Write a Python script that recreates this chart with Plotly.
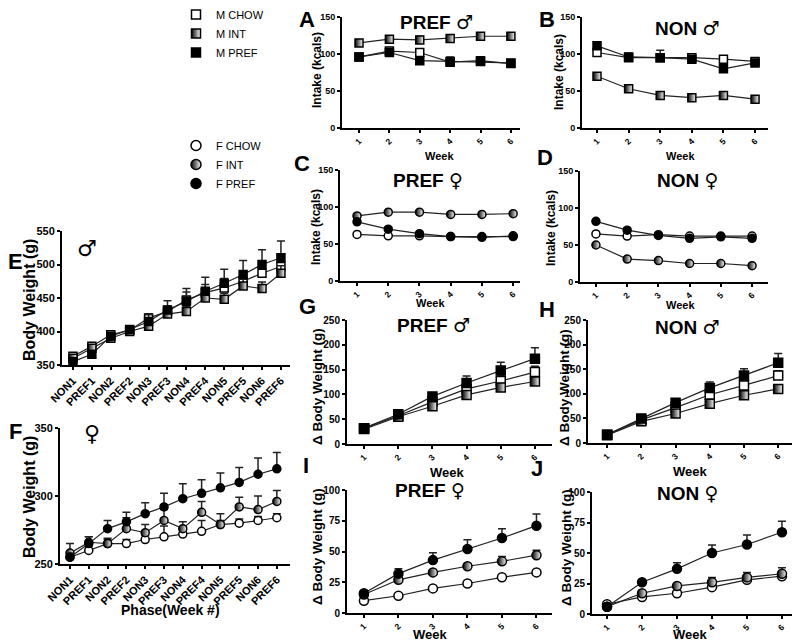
import plotly.graph_objects as go

# the page body adds an 8px margin, so the figure is placed from there
OFF = 8
W, H = 800 - OFF, 642 - OFF
FONT = 'Liberation Sans, Arial, DejaVu Sans'
SYM = '<span style="font-family:DejaVu Sans">{}\ufe0e</span>'

weeks = [1, 2, 3, 4, 5, 6]
phases = ['NON1', 'PREF1', 'NON2', 'PREF2', 'NON3', 'PREF3',
          'NON4', 'PREF4', 'NON5', 'PREF5', 'NON6', 'PREF6']

# A: intake, PREF weeks, males (kcals)
a_chow = [96, 104, 102, 89, 91, 87]
a_int = [115, 120, 119, 121, 124, 124]
a_pref = [96, 102, 91, 90, 90, 88]
a_chow_err = [2, 3, 5, 3, 2, 2]
a_int_err = [3, 3, 5, 3, 2, 2]
a_pref_err = [2, 3, 3, 6, 2, 2]

# B: intake, NON weeks, males
b_chow = [102, 95, 95, 95, 93, 90]
b_int = [70, 53, 44, 41, 44, 39]
b_pref = [111, 96, 95, 93, 80, 88]
b_chow_err = [3, 6, 10, 5, 3, 3]
b_int_err = [3, 2, 2, 2, 2, 2]
b_pref_err = [3, 3, 3, 3, 3, 3]

# C: intake, PREF weeks, females
c_chow = [63, 61, 61, 60, 59, 61]
c_int = [88, 93, 93, 90, 90, 91]
c_pref = [80, 70, 64, 60, 60, 60]
c_chow_err = [2, 2, 2, 2, 2, 2]
c_int_err = [2, 2, 2, 2, 2, 2]
c_pref_err = [2, 3, 2, 2, 2, 2]

# D: intake, NON weeks, females
d_chow = [65, 62, 64, 62, 62, 62]
d_int = [50, 31, 29, 25, 25, 22]
d_pref = [82, 70, 63, 59, 61, 59]
d_chow_err = [2, 2, 2, 2, 2, 2]
d_int_err = [2, 2, 2, 2, 2, 2]
d_pref_err = [2, 3, 2, 2, 2, 2]

# E: male body weight by phase (g)
e_chow = [363, 378, 395, 402, 420, 430, 447, 458, 465, 475, 487, 497]
e_int = [360, 375, 390, 400, 408, 426, 430, 450, 448, 468, 464, 487]
e_pref = [355, 366, 393, 403, 415, 432, 445, 460, 472, 485, 500, 510]
e_chow_err = [3, 3, 3, 4, 6, 8, 17, 12, 14, 15, 16, 17]
e_int_err = [3, 3, 3, 3, 5, 6, 7, 8, 9, 10, 10, 11]
e_pref_err = [3, 3, 4, 4, 10, 14, 14, 21, 21, 21, 22, 25]

# F: female body weight by phase (g)
f_chow = [255, 260, 265, 265, 268, 270, 272, 274, 279, 280, 282, 284]
f_int = [258, 266, 265, 276, 273, 282, 276, 288, 279, 292, 290, 296]
f_pref = [255, 265, 276, 281, 287, 292, 298, 302, 306, 310, 316, 320]
f_chow_err = [3, 3, 3, 3, 3, 8, 3, 8, 3, 3, 3, 3]
f_int_err = [7, 4, 4, 8, 6, 8, 5, 8, 8, 7, 10, 8]
f_pref_err = [3, 5, 6, 7, 8, 10, 11, 10, 11, 11, 12, 12]

# G: change in body weight, PREF, males
g_chow = [32, 57, 85, 111, 127, 145]
g_int = [30, 55, 76, 99, 114, 126]
g_pref = [32, 60, 96, 123, 148, 172]
g_chow_err = [2, 3, 5, 8, 10, 12]
g_int_err = [2, 3, 4, 6, 8, 8]
g_pref_err = [2, 4, 6, 14, 17, 22]

# H: change in body weight, NON, males
h_chow = [17, 47, 72, 98, 117, 137]
h_int = [16, 44, 60, 80, 97, 110]
h_pref = [17, 50, 82, 112, 137, 163]
h_chow_err = [2, 3, 4, 6, 8, 10]
h_int_err = [2, 3, 4, 5, 6, 7]
h_pref_err = [2, 3, 4, 12, 14, 19]

# I: change in body weight, PREF, females
i_chow = [10, 14, 20, 24, 29, 33]
i_int = [15, 27, 33, 38, 42, 47]
i_pref = [16, 32, 43, 52, 61, 71]
i_chow_err = [1, 1, 1, 1, 1, 2]
i_int_err = [1, 2, 2, 2, 4, 4]
i_pref_err = [2, 4, 6, 7.5, 7.5, 9.5]

# J: change in body weight, NON, females
j_chow = [8, 14, 17, 22, 28, 31]
j_int = [6, 17, 23, 26, 30, 33]
j_pref = [6, 26, 37, 50, 57, 67]
j_chow_err = [1, 1, 2, 2, 2, 2]
j_int_err = [1, 2, 2, 4, 4, 5]
j_pref_err = [1, 2, 5, 6.5, 7.7, 9]


def px_x(x):
    return (x - OFF) / W


def px_y(y):
    return 1 - (y - OFF) / H


def xdom(a, b):
    return [px_x(a), px_x(b)]


def ydom(top, bottom):
    return [px_y(bottom), px_y(top)]


def marker_style(kind, shape, size):
    base = dict(symbol=shape, size=size, line=dict(color='black', width=1.5))
    if kind == 'chow':
        base['color'] = 'white'
    elif kind == 'int':
        base['color'] = 'black'
        base['gradient'] = dict(type='horizontal', color='white')
    else:
        base['color'] = 'black'
    return base


fig = go.Figure()
annotations = []


def add_panel(n, x, series, shape, xpx, ypx, xr, yr, dtick, tick_size,
              categorical=False, msize=8):
    xa = 'x' if n == 1 else f'x{n}'
    ya = 'y' if n == 1 else f'y{n}'
    for kind, vals, err in series:
        fig.add_trace(go.Scatter(
            x=x, y=vals, mode='lines+markers', xaxis=xa, yaxis=ya, showlegend=False,
            line=dict(color='#222', width=1.2),
            marker=marker_style(kind, shape, msize),
            error_y=dict(type='data', array=err, arrayminus=[0] * len(err), symmetric=False,
                         color='#222', thickness=1.5, width=4),
        ))
    axis_common = dict(showgrid=False, zeroline=False, showline=True, linecolor='black',
                       linewidth=2, ticks='outside', ticklen=3, tickwidth=2, tickcolor='black',
                       automargin=False,
                       tickfont=dict(family=FONT, size=tick_size, color='black', weight='bold'))
    xkey = 'xaxis' if n == 1 else f'xaxis{n}'
    ykey = 'yaxis' if n == 1 else f'yaxis{n}'
    xaxis = dict(axis_common, domain=xdom(*xpx), range=xr, anchor=ya, tickangle=-45)
    if categorical:
        xaxis['type'] = 'category'
        xaxis['tickfont'] = dict(family=FONT, size=11, color='black', weight='bold')
    else:
        xaxis['tickvals'] = weeks
        xaxis['tickfont'] = dict(family=FONT, size=8.5, color='black', weight='bold')
    fig.update_layout(**{
        xkey: xaxis,
        ykey: dict(axis_common, domain=ydom(*ypx), range=yr, anchor=xa, dtick=dtick),
    })


def text(x, y, s, size, angle=0, bold=True):
    annotations.append(dict(
        x=px_x(x), y=px_y(y), xref='paper', yref='paper', showarrow=False,
        text=f'<b>{s}</b>' if bold else s, textangle=angle,
        font=dict(family=FONT, size=size, color='black'),
        xanchor='center', yanchor='middle'))


M = 'square'
F = 'circle'

add_panel(1, weeks, [('chow', a_chow, a_chow_err), ('int', a_int, a_int_err), ('pref', a_pref, a_pref_err)],
          M, (342, 520), (17, 128), [0.44, 6.3], [0, 150], 50, 9)
add_panel(2, weeks, [('chow', b_chow, b_chow_err), ('int', b_int, b_int_err), ('pref', b_pref, b_pref_err)],
          M, (582, 768), (17, 128), [0.525, 6.41], [0, 150], 50, 9)
add_panel(3, weeks, [('chow', c_chow, c_chow_err), ('int', c_int, c_int_err), ('pref', c_pref, c_pref_err)],
          F, (340, 520), (170, 281), [0.455, 6.22], [0, 150], 50, 9)
add_panel(4, weeks, [('chow', d_chow, d_chow_err), ('int', d_int, d_int_err), ('pref', d_pref, d_pref_err)],
          F, (580, 768), (171, 282), [0.49, 6.51], [0, 150], 50, 9)
add_panel(5, phases, [('chow', e_chow, e_chow_err), ('int', e_int, e_int_err), ('pref', e_pref, e_pref_err)],
          M, (62, 290), (231, 365), [-0.58, 11.48], [350, 550], 50, 11, categorical=True)
add_panel(6, phases, [('chow', f_chow, f_chow_err), ('int', f_int, f_int_err), ('pref', f_pref, f_pref_err)],
          F, (60, 290), (428, 564), [-0.53, 11.7], [250, 350], 50, 11, categorical=True)
add_panel(7, weeks, [('chow', g_chow, g_chow_err), ('int', g_int, g_int_err), ('pref', g_pref, g_pref_err)],
          M, (347, 552), (320, 444), [0.5, 6.5], [0, 250], 50, 10, msize=9)
add_panel(8, weeks, [('chow', h_chow, h_chow_err), ('int', h_int, h_int_err), ('pref', h_pref, h_pref_err)],
          M, (588, 797), (320, 443), [0.44, 6.55], [0, 250], 50, 10, msize=9)
add_panel(9, weeks, [('chow', i_chow, i_chow_err), ('int', i_int, i_int_err), ('pref', i_pref, i_pref_err)],
          F, (347, 552), (490, 613), [0.51, 6.45], [0, 100], 25, 10, msize=9)
add_panel(10, weeks, [('chow', j_chow, j_chow_err), ('int', j_int, j_int_err), ('pref', j_pref, j_pref_err)],
          F, (592, 797), (492, 614), [0.57, 6.43], [0, 100], 25, 10, msize=9)

# legend-only entries
for name, kind in [('M CHOW', 'chow'), ('M INT', 'int'), ('M PREF', 'pref')]:
    fig.add_trace(go.Scatter(x=[None], y=[None], mode='markers', name=name, legend='legend',
                             marker=marker_style(kind, 'square', 9)))
for name, kind in [('F CHOW', 'chow'), ('F INT', 'int'), ('F PREF', 'pref')]:
    fig.add_trace(go.Scatter(x=[None], y=[None], mode='markers', name=name, legend='legend2',
                             marker=marker_style(kind, 'circle', 10)))

# panel letters
for letter, x, y in [('A', 307, 19), ('B', 547, 19), ('C', 302, 163), ('D', 545, 157),
                     ('E', 15, 262), ('F', 15, 432), ('G', 307, 307), ('H', 547, 310),
                     ('I', 306, 465), ('J', 537, 468)]:
    text(x, y, letter, 22)

MALE = SYM.format('♂')
FEMALE = SYM.format('♀')

# panel titles (bold word, plain symbol)
for word, sym, x, y in [('PREF', MALE, 437, 22), ('NON', MALE, 687, 28),
                        ('PREF', FEMALE, 428, 180), ('NON', FEMALE, 687, 180),
                        ('PREF', MALE, 433, 325), ('NON', MALE, 687, 327),
                        ('PREF', FEMALE, 430, 490), ('NON', FEMALE, 687, 493)]:
    text(x, y, f'<b>{word}</b> {sym}', 19, bold=False)
text(87, 248, MALE, 22, bold=False)
text(92, 433, FEMALE, 22, bold=False)

# axis titles
for x, y in [(317, 70), (559, 72), (316, 227), (551, 228)]:
    text(x, y, 'Intake (kcals)', 12, angle=-90)
for x, y in [(29, 300), (29, 497)]:
    text(x, y, 'Body Weight (g)', 16, angle=-90)
for x, y in [(318, 387), (564, 388), (317, 547), (566, 548)]:
    text(x, y, 'Δ Body Weight (g)', 13.5, angle=-90)
for x, y, s in [(440, 156, 11), (680, 156, 11), (430, 303, 11), (680, 305, 11),
                (447, 472, 13), (690, 471, 13), (430, 634, 13), (690, 634, 13)]:
    text(x, y, 'Week', s)
text(170, 610, 'Phase(Week #)', 14)

leg = dict(xanchor='left', yanchor='top', bgcolor='rgba(0,0,0,0)', tracegroupgap=0,
           font=dict(family=FONT, size=11, color='black'), itemclick=False)
fig.update_layout(
    width=W, height=H, margin=dict(l=0, r=0, t=0, b=0, autoexpand=False),
    paper_bgcolor='white', plot_bgcolor='white',
    annotations=annotations,
    legend=dict(leg, x=px_x(176), y=px_y(0)),
    legend2=dict(leg, x=px_x(176), y=px_y(131)),
)

fig.write_html('out.html')
